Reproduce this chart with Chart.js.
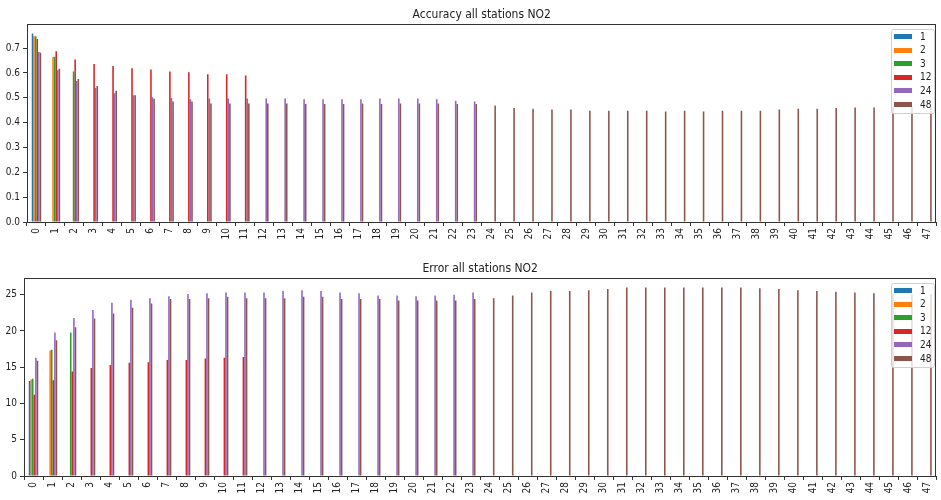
<!DOCTYPE html>
<html>
<head>
<meta charset="utf-8">
<script src="https://cdn.jsdelivr.net/npm/chart.js@4/dist/chart.umd.min.js"></script>
<style>
  body { margin: 0; background: #fff; }
  canvas { display: block; }
</style>
</head>
<body>
<canvas id="accChart" width="941" height="245"></canvas>
<canvas id="errChart" width="941" height="255"></canvas>
<script>
const categories = ["0","1","2","3","4","5","6","7","8","9","10","11","12","13","14","15",
  "16","17","18","19","20","21","22","23","24","25","26","27","28","29","30","31",
  "32","33","34","35","36","37","38","39","40","41","42","43","44","45","46","47"];
const seriesNames = ["1", "2", "3", "12", "24", "48"];
const seriesColors = ["#1f77b4", "#ff7f0e", "#2ca02c", "#d62728", "#9467bd", "#8c564b"];

// accuracy per horizon
const acc1 = [0.759];
const acc2 = [0.748, 0.665];
const acc3 = [0.748, 0.665, 0.606];
const acc12 = [0.737, 0.687, 0.654, 0.636, 0.628, 0.619, 0.614, 0.606, 0.603, 0.595, 0.595, 0.590];
const acc24 = [0.684, 0.611, 0.568, 0.539, 0.518, 0.510, 0.502, 0.499, 0.494, 0.497, 0.497, 0.497,
  0.497, 0.497, 0.494, 0.494, 0.494, 0.494, 0.497, 0.497, 0.497, 0.494, 0.488, 0.485];
const acc48 = [0.681, 0.617, 0.576, 0.547, 0.528, 0.510, 0.496, 0.485, 0.485, 0.477, 0.477, 0.477,
  0.477, 0.477, 0.475, 0.475, 0.475, 0.477, 0.475, 0.477, 0.477, 0.477, 0.475, 0.475,
  0.469, 0.459, 0.456, 0.453, 0.453, 0.448, 0.448, 0.448, 0.448, 0.445, 0.448, 0.445,
  0.448, 0.448, 0.448, 0.453, 0.456, 0.456, 0.459, 0.461, 0.461, 0.463, 0.465, 0.465];

// error per horizon
const err1 = [13.1];
const err2 = [13.3, 17.3];
const err3 = [13.4, 17.4, 19.8];
const err12 = [11.2, 13.2, 14.4, 14.9, 15.3, 15.6, 15.7, 16.0, 16.0, 16.2, 16.3, 16.4];
const err24 = [16.3, 19.8, 21.8, 22.9, 23.9, 24.3, 24.5, 24.8, 25.1, 25.2, 25.3, 25.3,
  25.3, 25.5, 25.6, 25.5, 25.3, 25.2, 24.9, 24.9, 24.8, 24.9, 25.0, 25.3];
const err48 = [15.9, 18.7, 20.5, 21.7, 22.4, 23.2, 23.8, 24.4, 24.4, 24.5, 24.7, 24.5,
  24.5, 24.5, 24.7, 24.7, 24.4, 24.4, 24.4, 24.2, 24.2, 24.2, 24.2, 24.4,
  24.5, 24.9, 25.3, 25.5, 25.5, 25.6, 25.8, 26.0, 26.0, 26.0, 26.0, 26.0,
  26.0, 26.0, 25.9, 25.8, 25.6, 25.5, 25.4, 25.3, 25.2, 25.1, 25.1, 25.1];

const FONT = "'DejaVu Sans Condensed', 'DejaVu Sans', sans-serif";

// box round the plot area + title centred over it (matplotlib style)
const frameBox = {
  id: "frameBox",
  afterDraw(chart, args, opts) {
    const a = chart.chartArea;
    const ctx = chart.ctx;
    ctx.save();
    ctx.strokeStyle = "#333";
    ctx.lineWidth = 1;
    ctx.strokeRect(Math.round(a.left) + 0.5, Math.round(a.top) + 0.5,
      Math.round(a.right - a.left) - 1, Math.round(a.bottom - a.top));
    ctx.fillStyle = "#222";
    ctx.font = "12px " + FONT;
    ctx.textAlign = "center";
    ctx.textBaseline = "middle";
    ctx.fillText(opts.text, (a.left + a.right) / 2, a.top - 9);
    ctx.restore();
  }
};

// legend drawn inside the plot, top right
const insideLegend = {
  id: "insideLegend",
  afterDraw(chart) {
    const a = chart.chartArea;
    const ctx = chart.ctx;
    const sets = chart.data.datasets;
    const boxW = 43, boxH = 84, rowH = 13.6;
    const x = Math.round(a.right) - boxW - 2;
    const y = Math.round(a.top) + 5;
    ctx.save();
    ctx.fillStyle = "rgba(255,255,255,0.8)";
    ctx.strokeStyle = "#d0d0d0";
    ctx.lineWidth = 1;
    ctx.beginPath();
    ctx.roundRect(x + 0.5, y + 0.5, boxW, boxH, 2);
    ctx.fill();
    ctx.stroke();
    ctx.font = "10px " + FONT;
    ctx.textBaseline = "middle";
    sets.forEach((ds, i) => {
      const cy = y + 8 + i * rowH;
      ctx.fillStyle = ds.backgroundColor;
      ctx.fillRect(x + 3, Math.round(cy - 3), 18, 5);
      ctx.fillStyle = "#222";
      ctx.fillText(ds.label, x + 29, cy);
    });
    ctx.restore();
  }
};

function makeChart(canvasId, title, series, yMax, step, decimals, yWidth, xHeight, topPad) {
  const ctx = document.getElementById(canvasId).getContext("2d");
  return new Chart(ctx, {
    type: "bar",
    data: {
      labels: categories,
      datasets: series.map((vals, i) => ({
        label: seriesNames[i],
        data: vals,
        backgroundColor: seriesColors[i],
        borderWidth: 0,
        categoryPercentage: 0.5,
        barPercentage: 1.0
      }))
    },
    options: {
      responsive: false,
      animation: false,
      layout: { padding: { left: 0, right: 3, top: topPad, bottom: 0 } },
      plugins: {
        legend: { display: false },
        tooltip: { enabled: false },
        title: { display: false },
        frameBox: { text: title }
      },
      scales: {
        x: {
          grid: { drawOnChartArea: false, drawTicks: true, tickLength: 4, color: "#333" },
          border: { display: false },
          ticks: {
            autoSkip: false, maxRotation: 90, minRotation: 90, padding: 2,
            color: "#222", font: { family: FONT, size: 10 }
          },
          afterFit: (s) => { s.height = xHeight; }
        },
        y: {
          min: 0,
          max: yMax,
          grid: { drawOnChartArea: false, drawTicks: true, tickLength: 4, color: "#333" },
          border: { display: false },
          ticks: {
            stepSize: step, includeBounds: false, padding: 3,
            color: "#222", font: { family: FONT, size: 10 },
            callback: (v) => v.toFixed(decimals)
          },
          afterFit: (s) => { s.width = yWidth; }
        }
      }
    },
    plugins: [frameBox, insideLegend]
  });
}

makeChart("accChart", "Accuracy all stations NO2",
  [acc1, acc2, acc3, acc12, acc24, acc48], 0.797, 0.1, 1, 27, 23, 24);
makeChart("errChart", "Error all stations NO2",
  [err1, err2, err3, err12, err24, err48], 27.3, 5, 0, 24, 24, 33);
</script>
</body>
</html>
